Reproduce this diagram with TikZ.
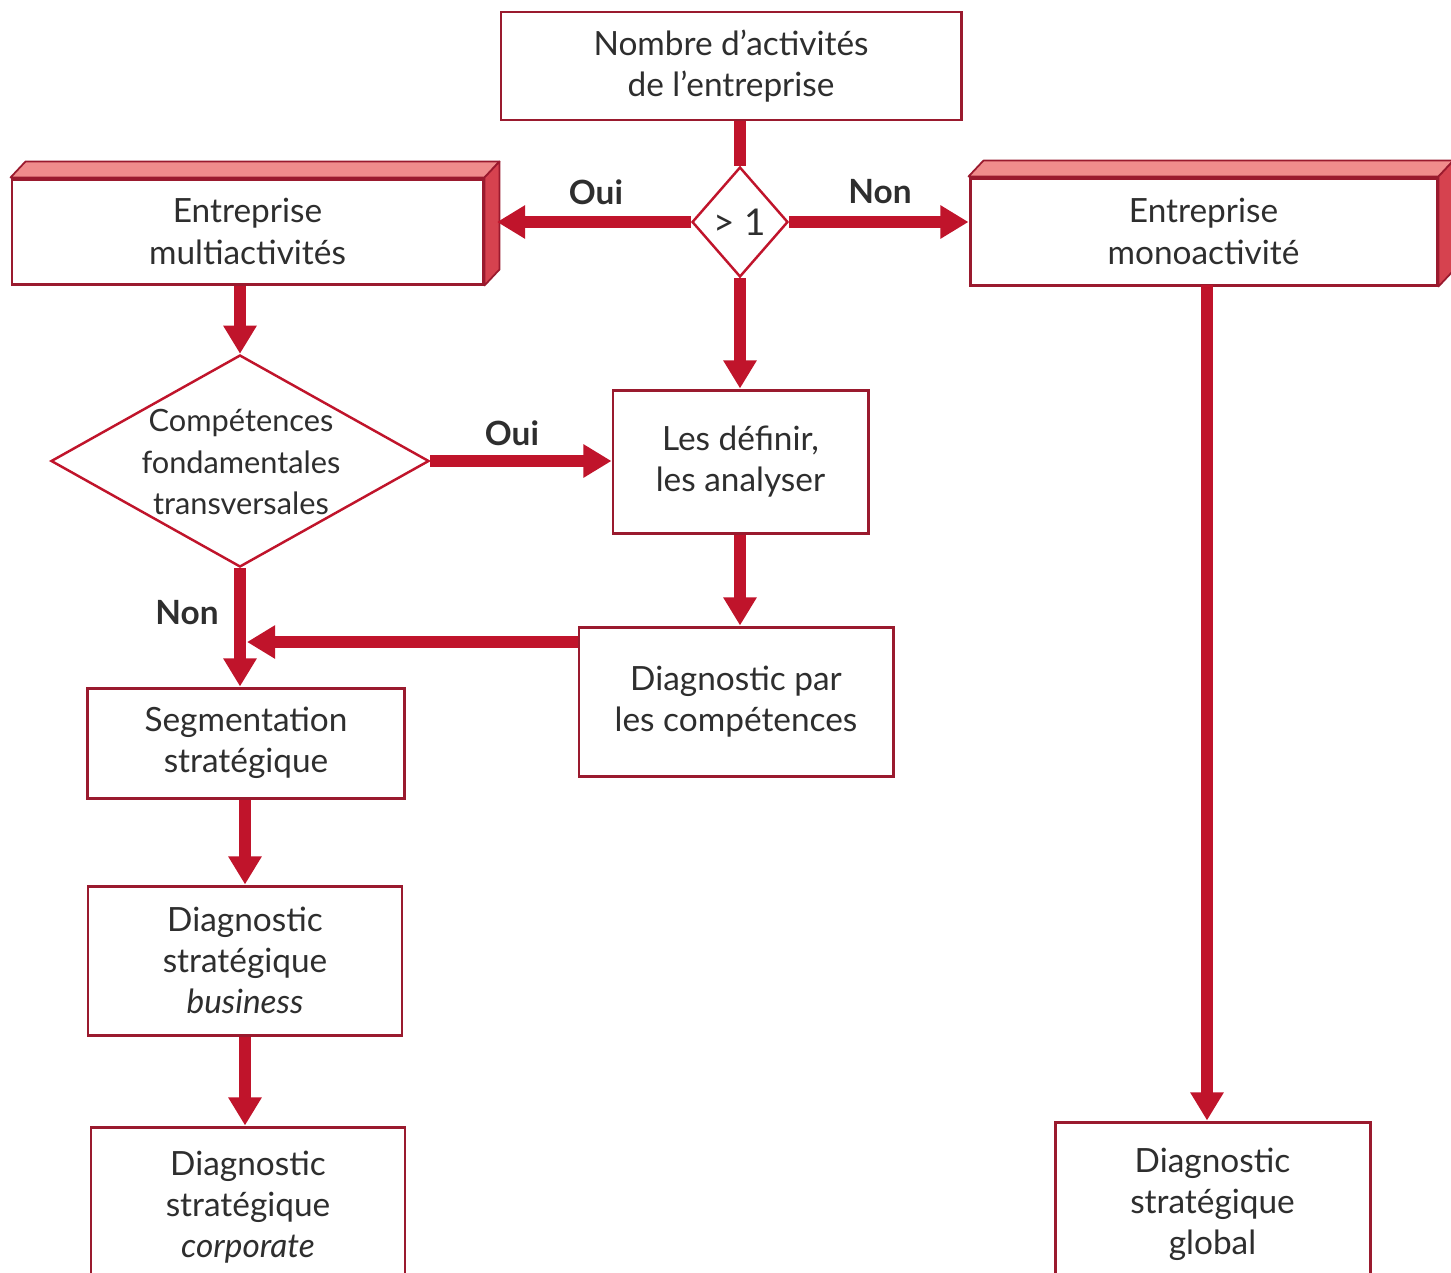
\documentclass[tikz,border=0pt]{standalone}
\usepackage{fontspec}
\setmainfont{Lato}
\usetikzlibrary{arrows.meta,shapes.geometric}
\definecolor{edgered}{HTML}{9A1A2E}
\definecolor{flowred}{HTML}{C0142B}
\definecolor{topface}{HTML}{F08C8C}
\definecolor{sideface}{HTML}{D6424F}
\definecolor{inktext}{HTML}{2E2E2E}
\def\px{0.02cm}
\tikzset{
  x=0.02cm, y=-0.02cm,
  box/.style={draw=edgered, line width=1.7pt, fill=white, inner sep=0pt,
    align=center, text=inktext, font=\fontsize{19}{23.5}\selectfont},
  decision/.style={diamond, draw=flowred, line width=1.4pt, fill=white, inner sep=0pt},
  dtext/.style={align=center, text=inktext, inner sep=0pt},
  flow/.style={draw=flowred, line width=6.6pt},
  flowarrow/.style={flow, -{Triangle[length=16pt, width=18pt]}},
  answer/.style={font=\fontsize{19}{23}\selectfont\bfseries, text=inktext, inner sep=0pt},
  topfill/.style={fill=topface, draw=edgered, line width=1pt, line join=round},
  sidefill/.style={fill=sideface, draw=edgered, line width=1pt, line join=round},
}
\begin{document}
\begin{tikzpicture}
\useasboundingbox (0,0) rectangle (1451,1272);
\clip (0,0) rectangle (1451,1272);

% plain boxes
\node[box, minimum width=460*\px, minimum height=108*\px] (nb) at (731,66)
  {Nombre d'activités\\de l'entreprise};
\node[box, minimum width=471*\px, minimum height=105*\px] (multi) at (247.5,231.5)
  {Entreprise\\multiactivités};
\node[box, minimum width=467*\px, minimum height=107*\px] (mono) at (1203.5,231.5)
  {Entreprise\\monoactivité};
\node[box, minimum width=255*\px, minimum height=143*\px] (def) at (740.5,461.5)
  {Les définir,\\les analyser};
\node[box, minimum width=314*\px, minimum height=149*\px] (dpc) at (736,701.5)
  {Diagnostic par\\les compétences};
\node[box, minimum width=317*\px, minimum height=110*\px] (seg) at (246,743)
  {Segmentation\\stratégique};
\node[box, minimum width=314*\px, minimum height=149*\px] (bus) at (245,960.5)
  {Diagnostic\\stratégique\\\textit{business}};
\node[box, minimum width=314*\px, minimum height=160*\px] (corp) at (248,1207)
  {Diagnostic\\stratégique\\\textit{corporate}};
\node[box, minimum width=315*\px, minimum height=165*\px] (glob) at (1212.5,1204.5)
  {Diagnostic\\stratégique\\global};

% raised edges of the two company boxes
\foreach \b in {multi,mono}{
  \path[topfill] (\b.north west) -- ++(15,-16) -- ([shift={(15,-16)}]\b.north east)
    -- (\b.north east) -- cycle;
  \path[sidefill] (\b.north east) -- ++(15,-16) -- ([shift={(15,-16)}]\b.south east)
    -- (\b.south east) -- cycle;
}

% decisions
\node[decision, minimum width=96*\px, minimum height=110*\px] (q1) at (740,222) {};
\node[dtext, font=\fontsize{21}{23}\selectfont] (q1t) at (q1) {> 1};
\node[decision, minimum width=378*\px, minimum height=212*\px] (q2) at (240,461) {};
\node[dtext, font=\fontsize{17.5}{23.5}\selectfont] (q2t) at (241,462)
  {Compétences\\fondamentales\\transversales};

% connectors
\coordinate (multiside) at (497,222);
\draw[flow] (nb.south -| q1.north) -- (q1.north);
\draw[flowarrow] (q1.west) -- (multiside);
\draw[flowarrow] (q1.east) -- (mono.west |- q1.east);
\draw[flowarrow] (q1.south) -- (def.north -| q1.south);
\draw[flowarrow] (multi.south -| q2.north) -- (q2.north);
\draw[flowarrow] (q2.east) -- (def.west |- q2.east);
\draw[flowarrow] (def.south -| q1.south) -- (dpc.north -| q1.south);
\draw[flowarrow] (q2.south) -- (seg.north -| q2.south);
\coordinate (join) at (247,642);
\draw[flowarrow] (dpc.west |- join) -- (join);
\draw[flowarrow] (seg.south -| bus.north) -- (bus.north);
\draw[flowarrow] (bus.south) -- (corp.north -| bus.south);
\coordinate (monodrop) at (1207,285);
\draw[flowarrow] (monodrop) -- (glob.north -| monodrop);

% answers
\node[answer] (oui1) at (596,192) {Oui};
\node[answer] (non1) at (880,192) {Non};
\node[answer] (oui2) at (512,433) {Oui};
\node[answer] (non2) at (187,613) {Non};
\end{tikzpicture}
\end{document}
